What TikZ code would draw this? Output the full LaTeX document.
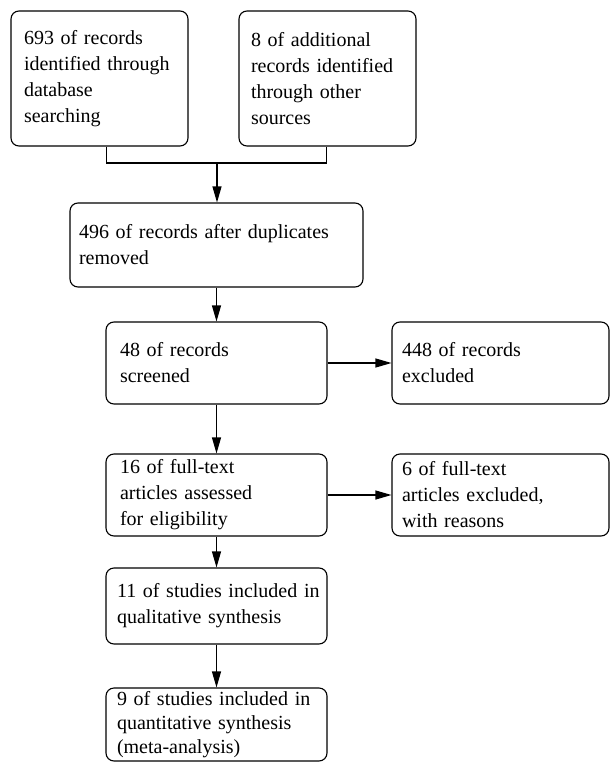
\documentclass[tikz,border=0pt]{standalone}
\usepackage{fontspec}
\setmainfont{Liberation Serif}
\usetikzlibrary{arrows.meta}

\begin{document}
\begin{tikzpicture}[x=1pt,y=-1pt,
  box/.style={draw,rounded corners=8pt,line width=1.1pt,inner xsep=0pt,inner ysep=0pt,align=left,font=\fontsize{20}{26}\selectfont},
  arr/.style={-{Triangle[length=16pt,width=9pt]},line width=1.1pt}]
\useasboundingbox (0,0) rectangle (610,762);
\node[box,minimum width=177pt,minimum height=135pt,text width=151pt] (db) at (99.5,78.5) {693 of records\\identified through\\database\\searching};
\node[box,minimum width=177pt,minimum height=135pt,text width=153pt] (oth) at (327.5,78.5) {8 of additional\\records identified\\through other\\sources};
\node[box,minimum width=293pt,minimum height=84pt,text width=275pt] (dup) at (216.5,245) {496 of records after duplicates\\removed};
\node[box,minimum width=221pt,minimum height=82pt,text width=193pt] (scr) at (216.5,363) {48 of records\\screened};
\node[box,minimum width=217pt,minimum height=82pt,text width=197pt] (exc) at (500.5,363) {448 of records\\excluded};
\node[box,minimum width=221pt,minimum height=82pt,text width=193pt] (full) at (216.5,495) {16 of full-text\\articles assessed\\for eligibility};
\node[box,minimum width=217pt,minimum height=82pt,text width=197pt] (fexc) at (500.5,495) {6 of full-text\\articles excluded,\\with reasons};
\node[box,minimum width=221pt,minimum height=76pt,text width=199pt] (qual) at (216.5,606) {\mbox{11 of studies included in}\\qualitative synthesis};
\node[box,minimum width=221pt,minimum height=73pt,text width=199pt,font=\fontsize{20}{24}\selectfont] (meta) at (216.5,724.5) {\mbox{9 of studies included in}\\quantitative synthesis\\(meta-analysis)};
\coordinate (join) at (217,163);
\draw[line width=1.1pt] ([xshift=7pt]db.south) |- (join) -| ([xshift=-1pt]oth.south);
\draw[arr] (join) -- (join |- dup.north);
\draw[arr] (dup) -- (scr);
\draw[arr] (scr) -- (exc);
\draw[arr] (scr) -- (full);
\draw[arr] (full) -- (fexc);
\draw[arr] (full) -- (qual);
\draw[arr] (qual) -- (meta);
\end{tikzpicture}
\end{document}
